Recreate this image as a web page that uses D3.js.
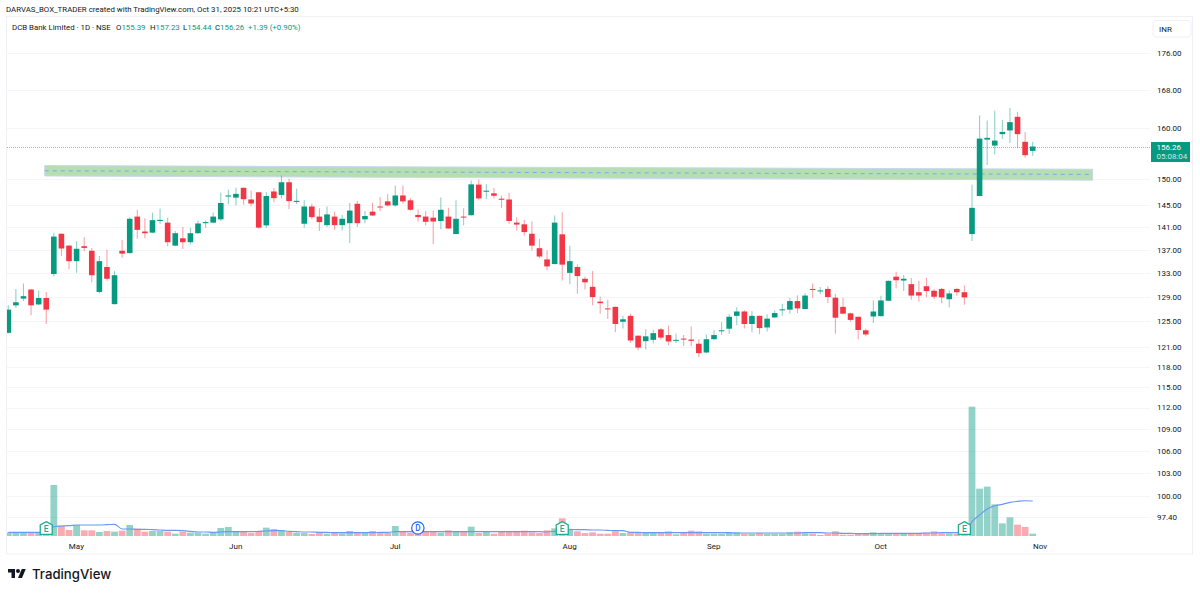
<!DOCTYPE html>
<html><head><meta charset="utf-8">
<script src="https://cdn.jsdelivr.net/npm/d3@7"></script>
<style>html,body{margin:0;padding:0;background:#fff}svg{display:block}text{font-family:Roboto,"Open Sans",sans-serif}</style>
</head><body><svg id="c" width="1200" height="594"></svg>
<script>
const opens=[123.2,127.6,128.7,130.2,127.75,128.8,132.8,139.8,137.7,135.0,137.6,136.8,129.8,134.0,127.8,136.8,136.4,142.9,140.2,140.0,
142.1,141.8,137.7,139.0,138.3,139.9,141.7,141.8,142.4,146.6,146.4,148.25,146.05,147.4,141.3,147.55,146.9,149.3,145.6,141.6,
144.75,142.9,141.35,142.9,141.35,141.7,145.25,142.4,143.8,144.75,145.7,144.95,146.8,145.9,143.2,142.9,142.7,142.1,142.9,139.75,
142.9,143.15,148.85,147.5,147.2,146.2,146.05,141.8,141.5,139.8,137.25,135.3,134.5,139.7,133.0,134.0,132.0,130.65,128.2,127.1,
127.35,124.95,125.9,122.75,121.9,122.1,123.75,122.85,121.95,122.3,122.15,121.5,120.15,122.2,123.45,123.85,125.9,126.6,124.6,125.9,
124.05,125.65,126.8,126.9,128.3,127.0,130.3,129.9,130.3,128.85,127.35,126.3,125.75,123.6,125.8,125.85,128.35,132.35,131.7,131.1,
129.75,130.75,130.0,130.3,128.6,130.3,129.75,139.75,146.7,157.65,156.45,158.75,159.5,162.3,157.2,155.39];
const highs=[127.6,130.3,131.2,130.3,130.05,129.8,140.0,139.85,137.8,138.5,139.2,137.3,135.9,137.0,133.3,138.7,142.8,144.15,142.6,143.6,
144.4,142.7,140.3,141.0,140.9,142.2,142.2,143.65,147.3,147.9,148.3,148.3,147.75,147.45,147.4,148.2,150.6,149.95,148.05,145.9,
145.25,144.45,144.75,143.8,143.2,145.4,145.75,143.9,145.45,146.5,147.1,148.7,148.7,146.3,144.2,143.9,144.0,146.4,144.5,145.9,
144.45,149.65,149.8,148.9,148.2,146.8,147.3,142.75,142.3,142.0,138.9,136.85,143.1,143.7,137.7,134.45,132.4,133.3,129.05,128.5,
127.4,125.9,126.25,122.8,123.75,123.7,123.95,124.35,123.05,122.85,124.2,122.2,122.95,123.6,124.9,126.15,127.3,126.8,126.65,125.95,
126.15,126.8,127.85,128.85,129.25,129.6,131.2,130.6,130.75,129.5,128.85,126.4,125.8,123.85,128.4,129.15,131.7,133.2,132.65,132.15,
131.65,132.15,130.3,130.45,130.05,130.5,130.85,148.8,162.55,161.55,163.55,161.65,164.15,163.35,159.2,157.23];
const lows=[123.1,127.2,128.3,126.0,127.6,124.6,132.4,135.9,133.6,133.0,136.7,131.4,129.6,131.7,127.7,135.6,136.3,138.9,139.0,139.9,
141.6,137.6,137.6,137.1,137.9,139.8,140.9,141.7,142.1,145.1,144.95,145.1,144.8,140.7,140.85,145.55,146.25,144.3,145.2,140.9,
142.4,140.3,141.0,140.5,140.4,138.15,141.0,141.7,143.0,143.9,144.75,144.7,145.3,144.0,141.95,141.3,137.95,140.6,140.7,139.7,
141.35,143.1,146.0,146.1,146.3,144.45,141.6,140.4,139.5,136.85,135.5,133.4,134.45,131.7,131.1,129.5,130.2,127.6,126.25,125.4,
123.3,123.9,121.65,120.5,120.6,121.55,122.1,121.25,121.6,121.15,121.1,119.45,120.05,122.15,122.9,123.0,124.4,123.9,123.3,123.0,
123.4,125.55,125.9,126.25,126.35,126.95,128.85,129.4,128.0,123.05,126.15,124.95,122.2,122.65,124.75,125.8,128.3,130.4,129.95,128.5,
128.2,128.95,128.6,127.95,127.3,129.15,127.7,138.5,146.65,152.6,154.7,157.75,156.95,155.95,154.05,154.44];
const closes=[126.9,128.1,129.1,127.6,128.8,126.9,139.3,137.2,135.0,137.15,137.3,132.6,135.0,132.0,132.6,136.3,142.5,140.5,139.9,142.25,
142.3,138.3,139.9,138.3,139.9,141.65,141.9,142.9,145.4,146.8,147.1,146.1,145.3,140.9,146.7,146.3,149.3,145.75,145.8,144.75,
142.8,141.9,143.3,141.35,142.5,144.0,141.7,143.0,143.1,144.6,144.95,146.8,145.7,144.15,142.8,141.95,142.0,144.15,140.75,142.5,
142.75,148.9,146.25,147.7,146.75,146.0,142.1,141.45,140.1,137.7,135.8,134.1,141.8,134.4,135.0,132.45,131.4,128.95,127.95,126.95,
124.6,125.35,122.0,120.9,122.65,123.15,122.45,121.85,122.1,122.15,121.95,120.05,122.2,122.85,123.6,125.75,126.6,124.6,125.9,123.95,
125.45,126.35,126.95,128.3,127.1,129.2,130.15,130.05,128.95,125.6,126.25,125.25,123.65,122.95,126.6,128.4,131.65,131.75,132.0,129.2,
129.2,129.95,129.0,128.9,129.55,129.75,128.9,144.5,157.85,158.0,157.45,159.2,161.2,158.75,154.55,156.26];
const volumes=[11,11,11,10,11,5,153,31,18,33,17,17,12,15,13,16,33,22,13,15,
15,13,7,13,10,10,7,11,24,27,15,15,9,15,25,21,17,13,10,9,
6,9,7,10,8,15,12,9,15,10,10,30,15,10,13,13,13,10,17,13,
13,28,9,15,7,13,13,13,16,11,9,17,23,53,18,14,9,11,7,7,
14,9,11,10,10,10,10,14,5,11,16,14,7,7,7,9,11,7,7,9,
7,7,7,11,13,8,7,3,7,14,4,4,8,6,11,8,8,8,8,8,
8,10,14,8,8,7,4,388,142,148,95,38,56,34,27,7];
const volumeMA=[11,11,11,11,11,11,28,30,31,33,33,33,33,34,35,21,21,20,20,19,
18,17,17,16,14,12,12,11,12,13,13,13,13,14,15,16,16,14,13,12,
12,11,11,10,10,10,10,10,10,11,11,13,13,13,13,13,13,13,13,13,
13,13,13,13,13,13,13,13,13,13,13,12,14,17,20,19,19,18,18,17,
16,16,11,11,10,10,10,10,10,10,10,10,10,10,10,10,9,9,9,9,
9,9,9,9,9,10,10,10,9,9,8,8,7,7,7,8,8,8,8,8,
8,9,9,10,10,10,8,43,63,81,91,95,101,104,106,105];
const priceTicks=[176,168,160,150,145,141,137,133,129,125,121,118,115,112,109,106,103,100,97.4];
const monthIdx=[9,30,51,74,93,115,136];
const monthNames=["May","Jun","Jul","Aug","Sep","Oct","Nov"];
const zoneBarStart=4.8, zoneBarEnd=142.9;
const zoneTop=[152.5,151.8], zoneBottom=[150.5,149.7], zoneMid=[151.5,150.8];
const earningsIdx=[5,73,126], dividendIdx=[54];
const lastPrice=156.26;

const GREEN="#089981",RED="#F23645",INK="#131722";
const svg=d3.select("#c");
const x=d3.scaleLinear().domain([0,135]).range([8.3,1032.7]);
const y=d3.scaleLog().domain([97.4,176]).range([517,53.3]);
const v=d3.scaleLinear().domain([0,388]).range([536,406.7]);
const col=(o,c)=>c>=o?GREEN:RED;
const FS=8;

// frame
svg.append("rect").attr("x",6.5).attr("y",16.5).attr("width",1186).attr("height",537.5).attr("fill","none").attr("stroke","#eff1f4");
// grid + price axis
svg.append("defs").append("clipPath").attr("id","pane").append("rect").attr("x",7).attr("y",17).attr("width",1143).attr("height",537);
const axisR=d3.axisRight(y).tickValues(priceTicks).tickFormat(d3.format(".2f")).tickSize(0).tickPadding(0);
const ga=svg.append("g").attr("transform","translate(1157,-0.3)").call(axisR);
ga.select(".domain").remove();
ga.selectAll("text").attr("font-size",FS).attr("fill",INK).attr("dy","0.34em");
svg.append("g").selectAll("line").data(priceTicks).join("line")
 .attr("x1",7).attr("x2",1150).attr("y1",d=>Math.round(y(d))+.5).attr("y2",d=>Math.round(y(d))+.5).attr("stroke","#f4f5f7");
// month axis
const axisB=d3.axisBottom(x).tickValues(monthIdx).tickFormat((d,i)=>monthNames[i]).tickSize(0).tickPadding(0);
const gb=svg.append("g").attr("transform","translate(-0.7,543.3)").call(axisB);
gb.select(".domain").remove();
gb.selectAll("text").attr("font-size",FS).attr("fill",INK).attr("dy","0.71em");

const pane=svg.append("g").attr("clip-path","url(#pane)");
// zone
const zx=[zoneBarStart,zoneBarEnd];
pane.append("polygon").attr("points",[[x(zx[0]),y(zoneTop[0])],[x(zx[1]),y(zoneTop[1])],[x(zx[1]),y(zoneBottom[1])],[x(zx[0]),y(zoneBottom[0])]].join(" "))
 .attr("fill","#b5dfb2").attr("stroke","#c9d6ee").attr("stroke-width",1);
pane.append("line").attr("x1",x(zx[0])).attr("x2",x(zx[1])).attr("y1",y(zoneMid[0])).attr("y2",y(zoneMid[1]))
 .attr("stroke","#7fa8e0").attr("stroke-width",1).attr("stroke-dasharray","4 4");
// last price line
pane.append("line").attr("x1",7).attr("x2",1150).attr("y1",Math.round(y(lastPrice))+.5).attr("y2",Math.round(y(lastPrice))+.5)
 .attr("stroke",GREEN).attr("stroke-opacity",.55).attr("stroke-dasharray","1 1");
// volume
pane.append("g").selectAll("rect").data(volumes).join("rect")
 .attr("x",(d,i)=>x(i)-3.4).attr("width",6.8).attr("y",d=>v(d)).attr("height",d=>v(0)-v(d))
 .attr("fill",(d,i)=>col(opens[i],closes[i])).attr("fill-opacity",(d,i)=>closes[i]>=opens[i]?.44:.42);
pane.append("path").datum(volumeMA).attr("fill","none").attr("stroke","#6b98f5").attr("stroke-width",1.1)
 .attr("d",d3.line().x((d,i)=>x(i)).y(d=>v(d)).curve(d3.curveMonotoneX));
// candles
const idx=d3.range(opens.length);
pane.append("g").selectAll("line").data(idx).join("line")
 .attr("x1",i=>x(i)).attr("x2",i=>x(i)).attr("y1",i=>y(highs[i])).attr("y2",i=>y(lows[i]))
 .attr("stroke",i=>col(opens[i],closes[i])).attr("stroke-opacity",.45).attr("stroke-width",1.1);
pane.append("g").selectAll("rect").data(idx).join("rect")
 .attr("x",i=>x(i)-2.8).attr("width",5.6)
 .attr("y",i=>y(Math.max(opens[i],closes[i]))).attr("height",i=>Math.max(1,Math.abs(y(opens[i])-y(closes[i]))))
 .attr("fill",i=>col(opens[i],closes[i]));
// event markers
const mk=svg.append("g");
earningsIdx.forEach(i=>{
 const g=mk.append("g").attr("transform",`translate(${x(i)},528)`);
 g.append("path").attr("d","M0,-6.3 L6,-3.2 L6,6.3 L-6,6.3 L-6,-3.2 Z").attr("fill","#fff").attr("stroke","#22ab94").attr("stroke-width",1.3);
 g.append("text").attr("y",3.8).attr("text-anchor","middle").attr("font-size",8.5).attr("font-weight",500).attr("fill","#22ab94").text("E");
});
dividendIdx.forEach(i=>{
 const g=mk.append("g").attr("transform",`translate(${x(i)-.2},528)`);
 g.append("circle").attr("r",6.2).attr("fill","#fff").attr("stroke","#2962ff").attr("stroke-width",1.2);
 g.append("text").attr("y",3).attr("text-anchor","middle").attr("font-size",8.2).attr("font-weight",500).attr("fill","#2962ff").text("D");
});
// price axis labels
const lab=svg.append("g");
lab.append("rect").attr("x",1151).attr("y",142).attr("width",39).attr("height",20).attr("fill",GREEN);
lab.append("text").attr("x",1156.5).attr("y",150).attr("font-size",FS).attr("fill","#fff").text("156.26");
lab.append("text").attr("x",1156.5).attr("y",159.3).attr("font-size",FS).attr("fill","#c6ebe4").text("05:08:04");
lab.append("rect").attr("x",1153).attr("y",20.5).attr("width",38).attr("height",16.5).attr("rx",3).attr("fill","#fff").attr("stroke","#eff1f4");
lab.append("text").attr("x",1159).attr("y",32).attr("font-size",FS).attr("fill",INK).text("INR");
// header
svg.append("text").attr("x",6).attr("y",12.3).attr("font-size",7.85).attr("fill",INK).text("DARVAS_BOX_TRADER created with TradingView.com, Oct 31, 2025 10:21 UTC+5:30");
const hdr=svg.append("text").attr("y",30.4).attr("font-size",7.85).attr("fill",INK);
hdr.append("tspan").attr("x",12).text("DCB Bank Limited · 1D · NSE");
[["O","155.39",116],["H","157.23",150],["L","154.44",183],["C","156.26",215]].forEach(([a,b,px])=>{
 hdr.append("tspan").attr("x",px).text(a);
 hdr.append("tspan").attr("fill",GREEN).text(b);
});
hdr.append("tspan").attr("x",248).attr("fill",GREEN).text("+1.39 (+0.90%)");
// logo
const lg=svg.append("g").attr("transform","translate(8,567) scale(.5)");
lg.append("path").attr("d","M14 22H7V11H0V4h14v18zM28 22h-8l7.5-18h8L28 22z").attr("fill",INK);
lg.append("circle").attr("cx",20).attr("cy",8).attr("r",4).attr("fill",INK);
svg.append("text").attr("x",32).attr("y",579).attr("font-size",13.2).attr("font-weight",500).attr("fill",INK).style("font-family","Inter,Roboto,sans-serif").text("TradingView");
</script></body></html>
